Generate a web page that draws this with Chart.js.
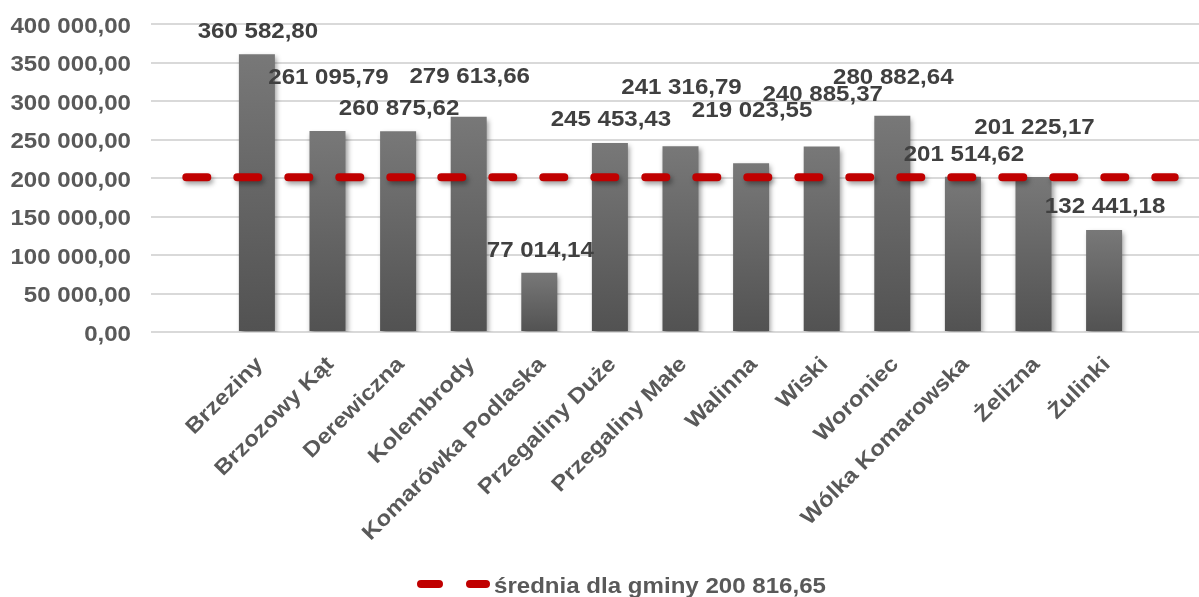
<!DOCTYPE html>
<html>
<head>
<meta charset="utf-8">
<script src="https://cdn.jsdelivr.net/npm/chart.js@4.4.1/dist/chart.umd.min.js"></script>
<style>
  html, body { margin: 0; padding: 0; background: #ffffff; overflow: hidden; }
  #wrap { width: 1199px; height: 597px; overflow: hidden; position: relative; }
  canvas { display: block; }
</style>
</head>
<body>
<div id="wrap"><canvas id="c" width="1215" height="597"></canvas></div>
<script>
// ---- data ----
const villages = ['Brzeziny', 'Brzozowy Kąt', 'Derewiczna', 'Kolembrody', 'Komarówka Podlaska',
  'Przegaliny Duże', 'Przegaliny Małe', 'Walinna', 'Wiski', 'Woroniec', 'Wólka Komarowska',
  'Żelizna', 'Żulinki'];
const values = [360582.80, 261095.79, 260875.62, 279613.66, 77014.14, 245453.43, 241316.79,
  219023.55, 240885.37, 280882.64, 201514.62, 201225.17, 132441.18];
const average = 200816.65;
const averageLabel = 'średnia dla gminy';
const yTickMin = 0, yTickMax = 400000, yTickStep = 50000;

// label placement (pixels above the bar top), as placed in the original
const labelLift = [24, 55, 24, 41, 23, 25, 60, 54, 53, 39, 24, 51, 25];

// ---- helpers ----
function fmt(v) {
  const s = Number(v).toFixed(2).split('.');
  const int = s[0].replace(/\B(?=(\d{3})+(?!\d))/g, ' ');
  return int + ',' + s[1];
}

const labels = ['', ...villages, ''];
const barData = [null, ...values, null];
const lineData = labels.map(() => average);

const FAMILY = '"Liberation Sans", Arial, sans-serif';
const K = 1.12; // horizontal glyph stretch of the original text

function stext(c, text, x, y, o) {
  c.save();
  c.translate(x, y);
  if (o.rot) c.rotate(o.rot);
  c.scale(K, 1);
  c.font = 'bold ' + o.size + 'px ' + FAMILY;
  c.fillStyle = o.color;
  c.textAlign = o.align || 'left';
  c.textBaseline = o.baseline || 'alphabetic';
  c.fillText(text, 0, 0);
  c.restore();
}

const plugin = {
  id: 'custom',
  beforeDatasetsDraw(chart) {
    const c = chart.ctx;
    c.save();
    c.shadowColor = 'rgba(0,0,0,0.38)';
    c.shadowBlur = 5;
    c.shadowOffsetX = 2;
    c.shadowOffsetY = 3;
  },
  afterDatasetsDraw(chart) {
    const c = chart.ctx;
    c.restore();
    // data labels
    const meta = chart.getDatasetMeta(1);
    meta.data.forEach((el, i) => {
      const v = barData[i];
      if (v == null) return;
      const lift = labelLift[i - 1];
      stext(c, fmt(v), el.x + 1, el.y - lift + 7.7, { size: 21.5, color: '#404040', align: 'center' });
    });
  },
  afterDraw(chart) {
    const c = chart.ctx;
    // y tick labels from the library's scale
    const ys = chart.scales.y;
    ys.ticks.forEach((t) => {
      const py = ys.getPixelForValue(t.value);
      stext(c, fmt(t.value), 131, py + 8.5, { size: 21.5, color: '#595959', align: 'right' });
    });
    // x tick labels from the library's scale
    const xs = chart.scales.x;
    labels.forEach((lab, i) => {
      if (!lab) return;
      const px = xs.getPixelForValue(i);
      stext(c, lab, px + 3, xs.top + 29, { size: 21.5, color: '#595959', align: 'right', baseline: 'middle', rot: -Math.PI / 4 });
    });
    // legend
    c.save();
    c.strokeStyle = '#C00000';
    c.lineWidth = 8;
    c.lineCap = 'round';
    c.beginPath();
    c.moveTo(421, 584); c.lineTo(439, 584);
    c.moveTo(470, 584); c.lineTo(486, 584);
    c.stroke();
    c.restore();
    stext(c, averageLabel + ' ' + fmt(average), 494, 593, { size: 21.5, color: '#595959', align: 'left' });
  }
};

new Chart(document.getElementById('c'), {
  type: 'bar',
  data: {
    labels: labels,
    datasets: [
      {
        type: 'line',
        label: averageLabel + ' ' + fmt(average),
        data: lineData,
        order: 0,
        borderColor: '#C00000',
        borderWidth: 8,
        borderDash: [21, 30],
        borderCapStyle: 'round',
        pointRadius: 0,
        fill: false,
        tension: 0
      },
      {
        type: 'bar',
        label: 'wartość',
        data: barData,
        order: 1,
        categoryPercentage: 1,
        barPercentage: 0.51,
        borderWidth: 0,
        backgroundColor: (ctx) => {
          const chart = ctx.chart;
          const ys = chart.scales && chart.scales.y;
          const v = ctx.raw;
          if (!ys || v == null || ys.top === undefined) return '#666666';
          const top = ys.getPixelForValue(v);
          const bot = ys.getPixelForValue(0);
          if (!isFinite(top) || !isFinite(bot) || top === bot) return '#666666';
          const g = chart.ctx.createLinearGradient(0, top, 0, bot);
          g.addColorStop(0, '#787878');
          g.addColorStop(1, '#525252');
          return g;
        }
      }
    ]
  },
  options: {
    responsive: false,
    animation: false,
    devicePixelRatio: 1,
    layout: { padding: { left: 10, top: 24, right: 5, bottom: 0 } },
    plugins: {
      legend: { display: false },
      tooltip: { enabled: false }
    },
    scales: {
      x: {
        offset: true,
        grid: { display: false },
        border: { display: false },
        ticks: { display: false, autoSkip: false },
        afterFit: (s) => { s.height = 265; }
      },
      y: {
        min: yTickMin,
        max: yTickMax,
        grid: { color: '#d9d9d9', lineWidth: 2, drawTicks: false },
        border: { display: false },
        ticks: { display: false, stepSize: yTickStep },
        afterFit: (s) => { s.width = 141; }
      }
    }
  },
  plugins: [plugin]
});
</script>
</body>
</html>
